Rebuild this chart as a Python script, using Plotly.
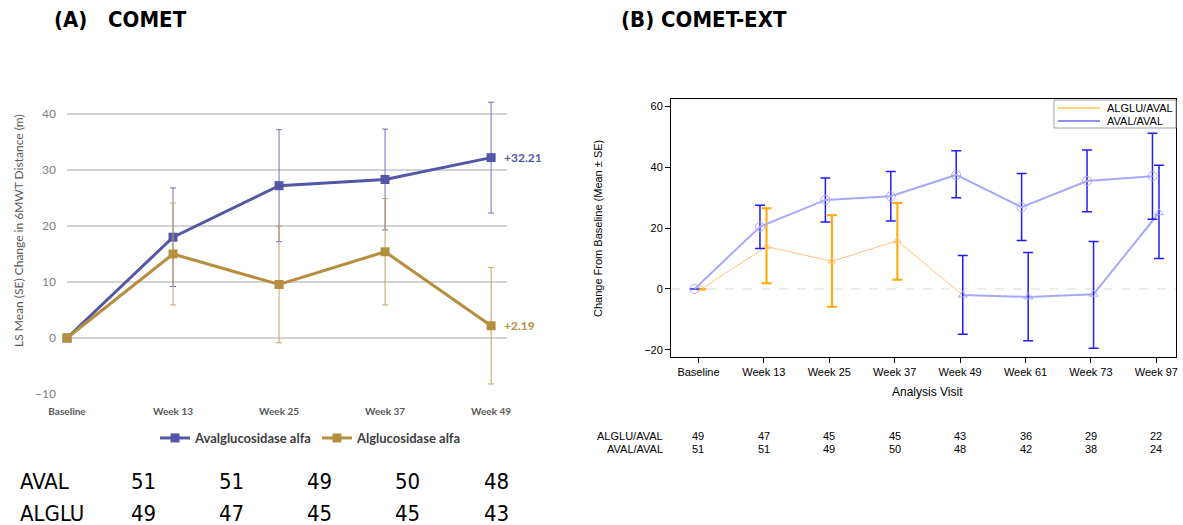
import plotly.graph_objects as go

W, H = 1183, 525

# ---------------- Panel A: COMET ----------------
visits_a = ["Baseline", "Week 13", "Week 25", "Week 37", "Week 49"]
aval_ls_mean = [0.0, 18.0, 27.2, 28.3, 32.21]
aval_se = [0.0, 8.8, 10.0, 9.0, 9.9]
alglu_ls_mean = [0.0, 15.0, 9.55, 15.4, 2.19]
alglu_se = [0.0, 9.1, 10.4, 9.5, 10.4]

n_aval_a = [51, 51, 49, 50, 48]
n_alglu_a = [49, 47, 45, 45, 43]

# ---------------- Panel B: COMET-EXT ----------------
visits_b = ["Baseline", "Week 13", "Week 25", "Week 37", "Week 49", "Week 61", "Week 73", "Week 97"]
avalaval_mean = [0.0, 20.4, 29.2, 30.4, 37.4, 26.8, 35.4, 37.0]
avalaval_hi = [0.0, 27.5, 36.4, 38.5, 45.3, 37.9, 45.6, 51.1]
avalaval_lo = [0.0, 13.3, 22.0, 22.3, 29.9, 15.9, 25.3, 22.9]
algluaval_mean = [0.0, 13.9, 9.1, 15.8, -2.0, -2.6, -1.7, 25.0]
algluaval_hi = [0.0, 26.5, 24.2, 28.2, 11.0, 12.0, 15.6, 40.6]
algluaval_lo = [0.0, 1.9, -5.8, 3.0, -14.8, -17.0, -19.4, 10.0]

n_algluaval_b = [49, 47, 45, 45, 43, 36, 29, 22]
n_avalaval_b = [51, 51, 49, 50, 48, 42, 38, 24]

C_AVAL = "#5357A6"
C_ALGLU = "#B58E3E"
C_ORANGE = "#FFA500"
C_ORANGE_LINE = "#FFC27A"
C_BLUE = "#1F1FF5"
C_BLUE_LIGHT = "#A8A8FA"

NARROW = "Liberation Sans Narrow, DejaVu Sans Condensed, Liberation Sans, Arial"


def px_x(p):
    return p / W


def px_y(p):
    return 1 - p / H


fig = go.Figure()

xa = list(range(len(visits_a)))

# Panel A traces
fig.add_trace(go.Scatter(
    x=xa, y=aval_ls_mean, name="Avalglucosidase alfa", mode="lines+markers",
    line=dict(color=C_AVAL, width=3),
    marker=dict(symbol="square", size=9, color=C_AVAL),
    error_y=dict(type="data", array=aval_se, color="#6E72B8", thickness=1, width=3),
    xaxis="x", yaxis="y", cliponaxis=False, legend="legend",
))
fig.add_trace(go.Scatter(
    x=xa, y=alglu_ls_mean, name="Alglucosidase alfa", mode="lines+markers",
    line=dict(color=C_ALGLU, width=3),
    marker=dict(symbol="square", size=9, color=C_ALGLU),
    error_y=dict(type="data", array=alglu_se, color="#C4A265", thickness=1, width=3),
    xaxis="x", yaxis="y", cliponaxis=False, legend="legend",
))

# Panel B traces
xb = list(range(len(visits_b)))
off_aval = -0.06
off_alglu = 0.04
split = visits_b.index("Week 49")

fig.add_trace(go.Scatter(
    x=[v + off_alglu for v in xb[:split + 1]], y=algluaval_mean[:split + 1],
    mode="lines", line=dict(color=C_ORANGE_LINE, width=1),
    xaxis="x2", yaxis="y2", showlegend=False, hoverinfo="skip",
))
fig.add_trace(go.Scatter(
    x=[v + off_alglu for v in xb[split:]], y=algluaval_mean[split:],
    mode="lines", line=dict(color=C_BLUE_LIGHT, width=2),
    xaxis="x2", yaxis="y2", showlegend=False, hoverinfo="skip",
))
fig.add_trace(go.Scatter(
    x=[v + off_alglu for v in xb[:split]], y=algluaval_mean[:split],
    mode="markers",
    marker=dict(symbol="triangle-up-open", size=7, color=C_ORANGE_LINE, line=dict(width=1)),
    error_y=dict(type="data", symmetric=False,
                 array=[h - m for h, m in zip(algluaval_hi[:split], algluaval_mean[:split])],
                 arrayminus=[m - l for l, m in zip(algluaval_lo[:split], algluaval_mean[:split])],
                 color=C_ORANGE, thickness=2, width=5),
    xaxis="x2", yaxis="y2", showlegend=False, cliponaxis=False,
))
fig.add_trace(go.Scatter(
    x=[v + off_alglu for v in xb[split:]], y=algluaval_mean[split:],
    mode="markers",
    marker=dict(symbol="triangle-up-open", size=8, color=C_BLUE_LIGHT, line=dict(width=1)),
    error_y=dict(type="data", symmetric=False,
                 array=[h - m for h, m in zip(algluaval_hi[split:], algluaval_mean[split:])],
                 arrayminus=[m - l for l, m in zip(algluaval_lo[split:], algluaval_mean[split:])],
                 color=C_BLUE, thickness=1.5, width=5),
    xaxis="x2", yaxis="y2", showlegend=False, cliponaxis=False,
))
fig.add_trace(go.Scatter(
    x=[v + off_aval for v in xb], y=avalaval_mean,
    mode="lines+markers",
    line=dict(color=C_BLUE_LIGHT, width=2),
    marker=dict(symbol="circle-open", size=9, color=C_BLUE_LIGHT, line=dict(width=1)),
    error_y=dict(type="data", symmetric=False,
                 array=[h - m for h, m in zip(avalaval_hi, avalaval_mean)],
                 arrayminus=[m - l for l, m in zip(avalaval_lo, avalaval_mean)],
                 color=C_BLUE, thickness=1.5, width=5),
    xaxis="x2", yaxis="y2", showlegend=False, cliponaxis=False,
))

shapes = []
# Dashed reference line at zero change
shapes.append(dict(type="line", xref="x2 domain", yref="y2", x0=0, x1=1, y0=0, y1=0,
                   line=dict(color="#D8D8D8", width=1, dash="dash"), layer="below"))

# Compact legend box for panel B
leg_left, leg_right, leg_top, leg_bottom = 1054, 1176, 100, 128
shapes.append(dict(type="rect", xref="paper", yref="paper",
                   x0=px_x(leg_left), x1=px_x(leg_right), y0=px_y(leg_bottom), y1=px_y(leg_top),
                   line=dict(color="#A0A0A0", width=1), fillcolor="white", layer="above"))
legend_b = [("ALGLU/AVAL", C_ORANGE, 108), ("AVAL/AVAL", C_BLUE, 121)]
ann = []
for label, col, ypx in legend_b:
    shapes.append(dict(type="line", xref="paper", yref="paper",
                       x0=px_x(1058), x1=px_x(1100), y0=px_y(ypx), y1=px_y(ypx),
                       line=dict(color=col, width=1), layer="above"))
    ann.append(dict(text=label, x=px_x(1105), y=px_y(ypx), xref="paper", yref="paper",
                    xanchor="left", yanchor="middle", showarrow=False,
                    font=dict(family="Liberation Sans", size=11, color="#000")))

# Panel titles
ann.append(dict(text="<b>(A)   COMET</b>", x=px_x(52), y=px_y(20), xref="paper", yref="paper",
                xanchor="left", yanchor="middle", showarrow=False,
                font=dict(family=NARROW, size=22, color="#000")))
ann.append(dict(text="<b>(B) COMET-EXT</b>", x=px_x(619), y=px_y(20), xref="paper", yref="paper",
                xanchor="left", yanchor="middle", showarrow=False,
                font=dict(family=NARROW, size=22, color="#000")))

# End-point labels in panel A
ann.append(dict(text=f"<b>+{aval_ls_mean[-1]:.2f}</b>", x=xa[-1], y=aval_ls_mean[-1], xref="x", yref="y",
                xanchor="left", yanchor="middle", xshift=11, showarrow=False,
                font=dict(family="Lato", size=12, color=C_AVAL)))
ann.append(dict(text=f"<b>+{alglu_ls_mean[-1]:.2f}</b>", x=xa[-1], y=alglu_ls_mean[-1], xref="x", yref="y",
                xanchor="left", yanchor="middle", xshift=11, showarrow=False,
                font=dict(family="Lato", size=12, color=C_ALGLU)))

# Axis titles
ann.append(dict(text="LS Mean (SE) Change in 6MWT Distance (m)", x=px_x(19), y=px_y(231),
                xref="paper", yref="paper", textangle=-90, showarrow=False,
                xanchor="center", yanchor="middle", font=dict(family="Lato", size=12, color="#595959")))
ann.append(dict(text="Change From Baseline (Mean ± SE)", x=px_x(598), y=px_y(229),
                xref="paper", yref="paper", textangle=-90, showarrow=False,
                xanchor="center", yanchor="middle", font=dict(family="Liberation Sans", size=11, color="#000")))
ann.append(dict(text="Analysis Visit", x=px_x(928), y=px_y(392), xref="paper", yref="paper",
                showarrow=False, xanchor="center", yanchor="middle",
                font=dict(family="Liberation Sans", size=12, color="#000")))

# Panel A number-at-risk table
tbl_font = dict(family=NARROW, size=22, color="#000")
for row_label, counts, ypx in (("AVAL", n_aval_a, 481), ("ALGLU", n_alglu_a, 513)):
    ann.append(dict(text=row_label, x=px_x(18), y=px_y(ypx), xref="paper", yref="paper",
                    xanchor="left", yanchor="middle", showarrow=False, font=tbl_font))
    for i, c in enumerate(counts):
        ann.append(dict(text=str(c), x=px_x(143 + i * 88.3), y=px_y(ypx), xref="paper", yref="paper",
                        xanchor="center", yanchor="middle", showarrow=False, font=tbl_font))

# Panel B number-at-risk table
tb_font = dict(family="Liberation Sans", size=11, color="#000")
for row_label, counts, ypx in (("ALGLU/AVAL", n_algluaval_b, 436), ("AVAL/AVAL", n_avalaval_b, 449)):
    ann.append(dict(text=row_label, x=px_x(665), y=px_y(ypx), xref="paper", yref="paper",
                    xanchor="right", yanchor="middle", showarrow=False, font=tb_font))
    for i, c in enumerate(counts):
        ann.append(dict(text=str(c), x=xb[i], y=px_y(ypx), xref="x2", yref="paper",
                        xanchor="center", yanchor="middle", showarrow=False, font=tb_font))

fig.update_layout(
    width=W, height=H, autosize=False,
    margin=dict(l=0, r=0, t=0, b=0, pad=0),
    paper_bgcolor="white", plot_bgcolor="white",
    showlegend=True,
    xaxis=dict(domain=[px_x(67), px_x(507)], range=[0, 4.15], automargin=False,
               tickmode="array", tickvals=xa, ticktext=visits_a,
               showgrid=False, zeroline=False, showline=False, ticks="",
               ticklabelstandoff=10,
               tickfont=dict(family="Lato", size=10, color="#595959", weight="bold")),
    yaxis=dict(domain=[px_y(394), px_y(100)], range=[-10, 42.5], automargin=False,
               tickvals=[-10, 0, 10, 20, 30, 40],
               showgrid=True, gridcolor="#D3D3D3", gridwidth=1.5, zeroline=False,
               showline=False, ticks="", ticklabelstandoff=10,
               tickfont=dict(family="Lato", size=12, color="#7F7F7F")),
    xaxis2=dict(domain=[px_x(671), px_x(1176)], range=[-0.42, 7.3], anchor="y2", automargin=False,
                tickmode="array", tickvals=xb, ticktext=visits_b,
                showgrid=False, zeroline=False, showline=True, linecolor="#000", linewidth=1,
                mirror=True, ticks="outside", ticklen=5, tickcolor="#000",
                tickfont=dict(family="Liberation Sans", size=11, color="#000")),
    yaxis2=dict(domain=[px_y(357), px_y(99)], range=[-22.3, 62.3], anchor="x2", automargin=False,
                tickvals=[-20, 0, 20, 40, 60],
                showgrid=False, zeroline=False, showline=True, linecolor="#000", linewidth=1,
                mirror=True, ticks="outside", ticklen=5, tickcolor="#000",
                tickfont=dict(family="Liberation Sans", size=11, color="#000")),
    legend=dict(orientation="h", x=px_x(311), y=px_y(438), xanchor="center", yanchor="middle",
                font=dict(family="Lato", size=13, color="#404040", weight="bold"),
                bgcolor="rgba(0,0,0,0)", itemwidth=30, traceorder="normal"),
    shapes=shapes,
    annotations=ann,
)

fig.write_html("out.html")
